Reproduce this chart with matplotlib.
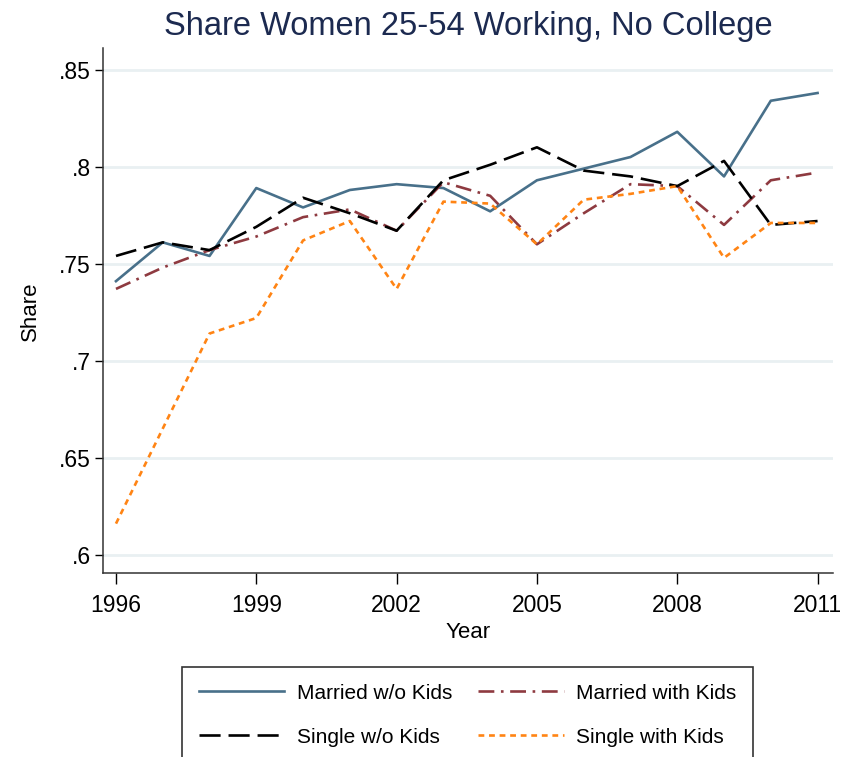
import matplotlib
matplotlib.use('Agg')
import matplotlib.pyplot as plt
import numpy as np

plt.rcParams['font.family'] = ['Liberation Sans', 'DejaVu Sans']

# data
years = list(range(1996, 2012))
married_no_kids = [0.741, 0.761, 0.754, 0.789, 0.779, 0.788, 0.791, 0.789,
                   0.777, 0.793, 0.799, 0.805, 0.818, 0.795, 0.834, 0.838]
married_kids = [0.737, 0.748, 0.757, 0.764, 0.774, 0.778, 0.767, 0.792,
                0.785, 0.760, 0.776, 0.791, 0.790, 0.770, 0.793, 0.797]
single_no_kids = [0.754, 0.761, 0.757, 0.769, 0.784, 0.776, 0.767, 0.793,
                  0.801, 0.810, 0.798, 0.795, 0.790, 0.803, 0.770, 0.772]
single_kids = [0.616, 0.665, 0.714, 0.722, 0.762, 0.772, 0.737, 0.782,
               0.781, 0.760, 0.783, 0.786, 0.790, 0.753, 0.771, 0.771]

x_ticks = [1996, 1999, 2002, 2005, 2008, 2011]
y_ticks = [0.6, 0.65, 0.7, 0.75, 0.8, 0.85]
y_labels = ['.6', '.65', '.7', '.75', '.8', '.85']

W, H = 857, 757
fig = plt.figure(figsize=(W / 100, H / 100), dpi=100)
ax = fig.add_axes([102.7 / W, 1 - 572.7 / H, (833 - 102.7) / W, (572.7 - 48) / H])

ax.plot(years, married_no_kids, color='#48708a', lw=1.9, label='Married w/o Kids')
ax.plot(years, married_kids, color='#8e3a40', lw=1.9, dashes=(6, 2.5, 1, 2.5),
        label='Married with Kids')
ax.plot(years, single_no_kids, color='black', lw=1.9, dashes=(8, 3),
        label='Single w/o Kids')
ax.plot(years, single_kids, color='#ff8414', lw=1.9, dashes=(2.2, 1.8),
        label='Single with Kids')

ax.set_xlim(1995.716, 2011.33)
ax.set_ylim(0.5907, 0.8612)
ax.set_xticks(x_ticks)
ax.set_yticks(y_ticks)
ax.set_yticklabels(y_labels)
ax.tick_params(axis='x', labelsize=16.5, length=8, width=1, pad=7)
ax.tick_params(axis='y', labelsize=16.5, length=5.5, width=1, pad=3)
ax.yaxis.grid(True, color='#e9f0f2', lw=2)
ax.set_axisbelow(True)
for s in ['top', 'right']:
    ax.spines[s].set_visible(False)
for s in ['left', 'bottom']:
    ax.spines[s].set_linewidth(1.1)
    ax.spines[s].set_color('#333333')

fig.text(468 / W, 1 - 26 / H, 'Share Women 25-54 Working, No College',
         ha='center', va='center', fontsize=23.5, color='#1c2a50')
fig.text(468 / W, 1 - 633 / H, 'Year', ha='center', va='center', fontsize=16)
fig.text(30 / W, 1 - 311 / H, 'Share', ha='center', va='center', fontsize=16,
         rotation=90)

handles, labels = ax.get_legend_handles_labels()
order = [0, 2, 1, 3]
leg = fig.legend([handles[i] for i in order], [labels[i] for i in order],
                 loc='upper left', bbox_to_anchor=(182 / W, 0.0, 571 / W, 1 - 667 / H),
                 mode='expand', ncol=2, fontsize=15, frameon=True, fancybox=False,
                 borderaxespad=0, handlelength=4.1, handletextpad=0.6,
                 labelspacing=1.2, borderpad=0.8, columnspacing=1.0)
leg.get_frame().set_edgecolor('black')
leg.get_frame().set_linewidth(1.2)

fig.savefig('out.png', dpi=100, facecolor='white')
